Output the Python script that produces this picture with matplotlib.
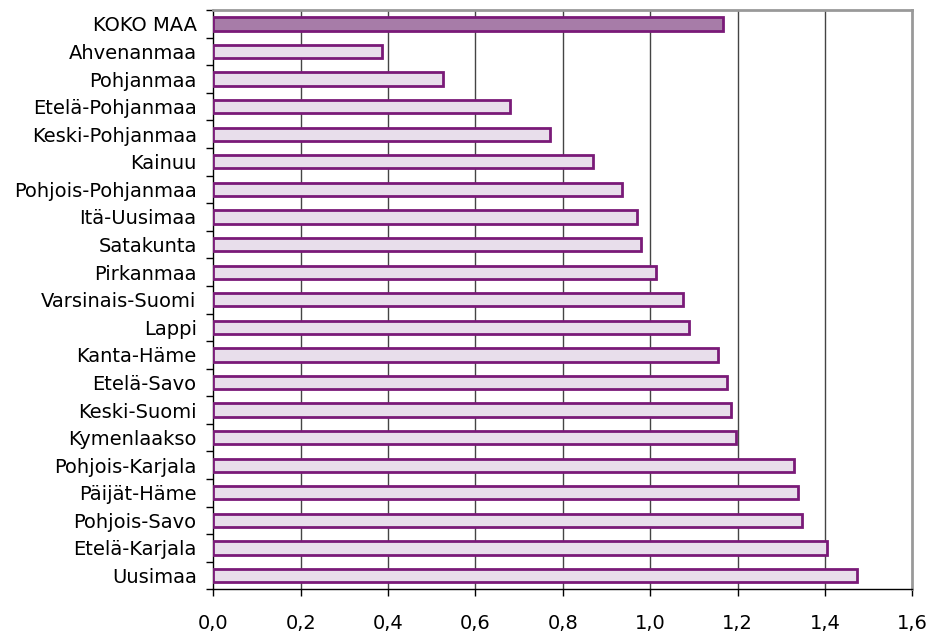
import numpy as np
import matplotlib.pyplot as plt
from matplotlib.ticker import FixedLocator

alueet = ['KOKO MAA', 'Ahvenanmaa', 'Pohjanmaa', 'Etelä-Pohjanmaa', 'Keski-Pohjanmaa',
          'Kainuu', 'Pohjois-Pohjanmaa', 'Itä-Uusimaa', 'Satakunta', 'Pirkanmaa',
          'Varsinais-Suomi', 'Lappi', 'Kanta-Häme', 'Etelä-Savo', 'Keski-Suomi',
          'Kymenlaakso', 'Pohjois-Karjala', 'Päijät-Häme', 'Pohjois-Savo',
          'Etelä-Karjala', 'Uusimaa']
arvot = [1.167, 0.387, 0.526, 0.679, 0.771, 0.868, 0.935, 0.970, 0.978, 1.014,
         1.075, 1.088, 1.154, 1.176, 1.185, 1.197, 1.329, 1.338, 1.347, 1.404, 1.474]
xtikit = [0.0, 0.2, 0.4, 0.6, 0.8, 1.0, 1.2, 1.4, 1.6]

plt.rcParams['font.family'] = ['DejaVu Sans']

fig = plt.figure(figsize=(9.31, 6.33), dpi=100)
ax = fig.add_axes([0.2291, 0.069, 0.7509, 0.915])

n = len(alueet)
y = np.arange(n)
varit = ['#a77ca8'] + ['#e8deeb'] * (n - 1)
ax.barh(y, arvot, height=0.48, color=varit, edgecolor='#7a1a78', linewidth=2.0, zorder=3)

ax.set_xlim(0, 1.6)
ax.set_ylim(n - 0.5, -0.5)
ax.set_xticks(xtikit)
ax.set_xticklabels([f'{v:.1f}'.replace('.', ',') for v in xtikit], fontsize=14)
ax.set_yticks(y)
ax.set_yticklabels(alueet, fontsize=14)
ax.tick_params(axis='y', which='major', length=0, pad=12)
ax.yaxis.set_minor_locator(FixedLocator(np.arange(n + 1) - 0.5))
ax.tick_params(axis='y', which='minor', length=5, width=1, direction='out')
ax.tick_params(axis='x', length=5, width=1, direction='out', pad=13)

for v in xtikit[1:-1]:
    ax.axvline(v, color='#444444', linewidth=1.0, zorder=1)

for s in ['top', 'right']:
    ax.spines[s].set_color('#999999')
    ax.spines[s].set_linewidth(2)
for s in ['left', 'bottom']:
    ax.spines[s].set_color('black')
    ax.spines[s].set_linewidth(1)

fig.savefig('out.png', dpi=100)
